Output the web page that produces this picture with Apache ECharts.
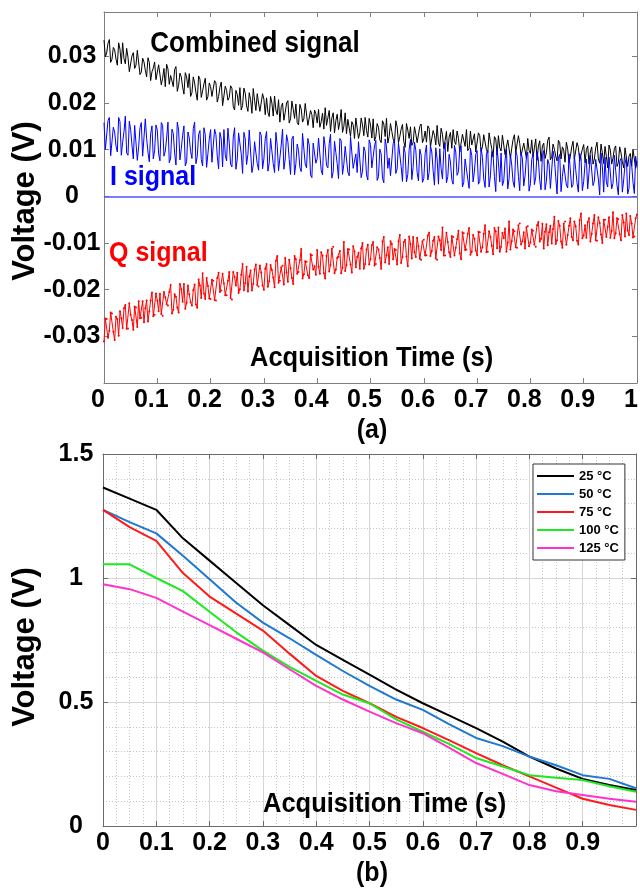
<!DOCTYPE html>
<html>
<head>
<meta charset="utf-8">
<script src="https://cdn.jsdelivr.net/npm/echarts@6.0.0/dist/echarts.min.js"></script>
<style>
html,body{margin:0;padding:0;background:#fff;}
#chart{width:640px;height:890px;}
</style>
</head>
<body>
<div id="chart"></div>
<script>
// ---------- Panel (a): sampled signals, values in mV, one sample every timeStepA seconds ----------
const timeStepA = 0.0025;
const combinedSignalMV = [
33.5,29.9,30.7,32.8,33.6,28.7,29.4,31.9,31.4,29.4,28.1,32.9,31.5,28.4,32.9,29.5,28.4,31.7,29.8,26.7,27.0,30.1,30.8,27.4,28.1,31.3,30.9,26.1,26.6,29.6,28.8,27.0,25.6,29.7,28.7,24.8,26.7,27.5,28.8,25.0,25.3,28.2,
28.3,23.9,25.3,27.4,23.5,28.3,27.3,24.0,25.9,26.3,23.5,27.2,27.8,22.5,23.8,26.4,25.6,23.4,21.9,26.5,25.6,23.3,26.3,21.4,22.2,25.6,24.3,22.2,20.6,25.8,25.1,21.2,22.6,24.1,25.3,20.6,21.4,24.3,23.5,21.4,
21.0,24.8,24.3,20.2,21.4,23.4,24.5,19.4,19.8,23.6,22.7,20.6,21.2,23.7,23.2,19.2,18.5,22.7,21.8,19.5,23.3,18.5,19.5,23.2,22.1,19.4,18.2,22.2,20.8,17.8,23.1,20.6,18.4,22.0,20.0,18.2,17.8,22.0,20.8,17.5,
21.1,18.0,17.1,21.4,20.0,17.2,21.5,18.5,17.5,20.7,15.9,19.2,20.0,16.3,18.0,20.0,20.5,15.7,16.6,20.4,18.7,16.7,19.8,15.8,15.3,19.7,18.7,15.9,16.6,19.9,20.0,15.2,15.4,18.4,17.5,14.7,18.5,17.7,15.7,18.6,
14.8,16.0,17.8,14.4,19.0,15.2,15.4,18.4,13.9,16.8,17.9,13.6,16.2,17.6,14.3,16.0,18.6,13.7,15.0,17.9,13.4,16.5,16.7,12.9,16.0,15.3,12.4,16.8,17.0,12.4,13.6,16.8,15.3,13.0,16.9,14.1,12.7,16.7,15.3,12.5,
16.6,11.9,12.8,15.6,14.8,12.1,11.5,16.2,15.5,12.8,16.7,11.4,12.8,15.6,13.9,12.3,11.5,16.2,14.9,11.5,12.8,14.4,15.4,11.7,10.5,15.6,14.2,12.4,14.9,10.9,11.5,14.9,13.4,11.5,11.8,15.0,15.5,11.5,12.3,14.0,
11.6,15.1,14.6,10.6,10.2,14.1,13.1,11.0,15.2,11.5,10.7,14.6,13.3,10.2,12.0,13.9,9.6,12.7,13.7,10.3,14.3,11.8,11.1,14.0,12.4,9.5,9.9,13.3,13.0,10.7,14.3,9.8,10.3,14.0,11.0,10.9,13.4,9.5,9.3,13.6,
13.0,9.6,10.6,13.2,13.6,10.0,9.3,13.6,11.7,10.2,8.4,12.8,12.3,8.8,13.0,10.4,9.7,13.1,11.0,8.9,8.5,12.1,12.4,8.2,10.3,12.2,13.2,9.4,9.0,13.0,11.3,8.7,8.4,11.4,11.4,8.2,12.4,9.8,9.2,12.1,
8.5,10.4,12.3,7.7,10.8,11.9,7.5,10.8,11.4,8.1,9.3,12.0,12.7,7.8,8.5,11.2,10.1,8.6,7.6,12.0,11.5,8.0,10.6,9.9,7.3,11.6,10.1,7.2,8.6,10.6,11.8,8.0,7.8,11.5,10.5,7.6,8.9,10.1,11.1,7.2,
10.0,10.8,6.9,9.5,10.6,6.9,8.0,10.4,11.6,8.0,7.1,11.2,9.3,7.0,10.7,8.6,6.1,11.0,9.9,6.9,8.2,10.2,10.8,6.4,7.2,10.6,9.3,7.4,6.1,10.4,10.1,6.4,8.6,9.2,6.5,10.0,9.6,6.0,7.5
];
const iSignalMV = [
15.8,10.0,10.3,16.2,16.9,8.7,8.8,14.8,13.8,10.8,9.5,16.9,16.0,8.8,11.6,13.9,17.2,9.3,8.8,16.1,14.3,11.0,8.0,15.2,14.9,7.7,10.6,14.7,15.8,8.6,9.0,16.6,12.4,9.5,7.4,13.4,15.1,8.0,9.8,15.3,14.2,9.1,
7.6,15.8,15.2,8.6,9.7,12.5,15.9,7.2,8.2,14.4,13.5,9.3,6.7,15.9,14.2,7.8,10.2,13.1,15.1,6.5,7.4,13.8,12.5,9.6,8.1,14.5,15.9,7.0,8.6,13.2,14.1,7.9,6.5,14.7,13.2,6.2,9.2,12.3,14.3,7.3,
7.1,14.4,13.2,8.6,5.9,13.7,12.3,6.3,14.3,8.8,7.6,14.6,11.4,6.9,6.3,12.7,14.7,5.8,8.0,13.6,13.2,9.1,4.9,13.7,12.3,6.8,9.0,14.2,14.0,5.1,6.7,11.7,11.5,7.0,5.6,13.8,13.1,5.9,8.0,12.3,
13.9,5.4,7.2,12.4,12.4,7.0,5.1,13.7,10.9,5.5,5.9,11.0,14.4,5.8,8.0,13.2,11.7,7.9,4.7,12.3,12.9,4.6,7.0,11.2,9.8,6.2,5.3,13.5,13.5,6.9,6.1,12.4,11.0,4.6,4.0,11.4,11.7,7.1,8.1,12.5,
12.1,5.6,4.6,12.8,10.6,6.6,6.1,11.3,13.3,3.9,5.3,11.8,9.4,7.0,3.8,12.4,11.9,4.7,6.9,10.7,11.1,5.2,4.4,12.8,12.6,6.0,6.3,9.1,5.1,11.7,12.1,4.0,5.4,10.6,9.6,4.6,3.5,12.1,11.1,6.1,
5.7,10.8,12.0,3.4,4.2,10.1,9.1,3.9,2.9,12.3,10.6,6.0,8.2,4.4,4.5,11.3,12.1,4.9,5.9,11.4,11.0,6.4,3.2,10.7,9.3,3.1,4.7,10.0,12.2,3.6,6.2,11.6,9.9,5.1,3.3,10.1,8.8,3.0,3.8,9.2,
11.0,3.5,5.1,10.9,9.5,5.5,2.4,10.4,8.0,2.6,10.2,5.9,3.7,9.7,11.5,2.9,4.2,9.0,7.4,3.6,2.6,10.9,9.5,4.5,5.3,10.3,10.8,2.0,3.0,8.0,8.2,3.7,1.7,10.3,8.7,3.1,5.4,9.0,9.8,2.6,
3.2,10.4,8.3,3.7,1.9,9.1,9.9,2.0,4.4,9.6,8.8,4.2,1.0,10.3,7.3,3.1,9.3,2.3,3.3,7.8,10.2,1.6,3.8,9.0,6.7,3.1,1.9,9.7,8.7,4.3,1.2,9.4,8.0,2.2,4.4,8.4,9.5,1.1,2.7,7.9,
9.1,2.5,4.1,9.6,7.8,3.4,1.4,8.8,9.8,1.4,3.2,7.9,6.9,1.7,1.7,9.7,8.1,4.1,0.5,8.2,9.0,1.0,4.2,6.8,7.2,2.4,1.8,9.1,9.3,1.9,2.5,8.7,5.7,2.9,0.9,9.2,8.2,1.2,3.2,7.0,
8.0,1.6,1.2,8.8,9.1,2.3,3.3,7.9,7.5,3.7,0.3,9.3,6.3,0.9,8.4,3.0,2.0,8.4,8.8,1.6,2.8,8.8,5.6,2.4,0.3,7.5,8.1,0.9,3.5,6.9,8.5,0.5,1.7,8.1,6.8,3.0,0.6,8.6,6.4
];
const qSignalMV = [
-31.1,-26.2,-26.3,-30.3,-28.8,-24.9,-25.1,-29.0,-30.8,-25.8,-26.3,-29.9,-24.6,-26.1,-28.2,-24.0,-23.3,-28.4,-28.3,-22.9,-25.4,-26.5,-28.6,-23.6,-23.8,-28.0,-22.5,-26.1,-26.0,-22.5,-27.0,-24.0,-22.3,-26.8,-24.7,-22.3,-20.6,-25.7,-25.4,-20.8,-22.3,-24.6,
-20.9,-25.2,-25.6,-20.5,-21.6,-23.1,-23.4,-20.5,-19.0,-25.1,-24.3,-21.0,-21.5,-23.8,-24.9,-18.8,-19.9,-22.6,-18.8,-24.1,-22.8,-19.1,-21.0,-22.7,-23.4,-20.1,-18.9,-23.2,-23.9,-17.8,-19.1,-21.8,-16.5,-20.8,-22.0,-17.5,-19.2,-21.9,-22.0,-17.9,
-18.1,-22.2,-22.3,-17.5,-16.4,-20.5,-20.2,-16.6,-18.7,-21.2,-21.2,-18.1,-16.2,-21.8,-22.1,-16.2,-17.3,-19.1,-16.4,-20.7,-19.9,-16.8,-14.5,-20.1,-18.6,-15.1,-20.4,-17.2,-15.9,-20.2,-18.8,-15.7,-14.6,-19.0,-19.3,-14.8,-16.3,-19.1,-20.0,-15.5,
-14.5,-19.4,-18.2,-14.7,-15.8,-17.4,-19.5,-13.8,-12.8,-18.5,-18.1,-15.2,-14.9,-18.9,-13.2,-16.3,-18.3,-13.6,-15.4,-17.5,-18.8,-12.8,-13.5,-16.6,-16.2,-13.7,-11.3,-17.6,-16.7,-13.9,-14.0,-16.9,-17.5,-12.4,-12.6,-15.7,-15.0,-16.8,-11.5,-15.1,
-16.6,-12.0,-12.7,-16.5,-17.6,-12.8,-11.5,-16.1,-14.7,-11.2,-10.8,-16.5,-15.7,-13.2,-13.0,-11.7,-16.5,-15.3,-9.8,-16.0,-14.7,-11.3,-11.4,-14.6,-16.3,-10.7,-11.8,-15.2,-13.0,-12.1,-15.5,-11.2,-10.0,-15.5,-14.5,-11.4,-10.4,-14.6,-13.5,-10.5,
-9.8,-14.8,-14.5,-10.9,-11.4,-13.2,-15.5,-9.7,-8.7,-14.2,-12.6,-10.9,-14.5,-9.6,-10.2,-13.5,-11.3,-11.5,-14.6,-9.6,-8.3,-14.3,-13.0,-9.8,-9.3,-12.9,-15.0,-8.6,-10.2,-13.3,-8.7,-12.0,-13.0,-8.9,-10.7,-13.4,-13.6,-9.6,-9.3,-12.7,
-12.6,-8.4,-7.8,-12.8,-11.7,-9.5,-8.7,-13.3,-13.6,-8.6,-9.4,-11.5,-6.7,-12.7,-12.7,-7.8,-9.8,-12.0,-13.0,-8.5,-8.7,-12.7,-11.0,-9.2,-7.4,-12.2,-13.5,-7.7,-7.9,-11.5,-11.4,-8.0,-6.8,-12.5,-11.9,-8.3,-9.1,-11.6,-12.6,-7.6,
-7.7,-11.9,-10.9,-8.0,-6.2,-12.0,-11.9,-7.5,-8.7,-10.6,-12.4,-6.8,-7.5,-11.1,-6.7,-11.9,-10.8,-7.8,-9.0,-6.9,-11.9,-9.9,-5.4,-11.4,-9.6,-7.1,-7.5,-10.9,-11.0,-6.2,-5.8,-10.3,-9.7,-7.7,-11.2,-6.6,-6.4,-10.7,-9.9,-7.1,
-7.4,-10.4,-10.8,-6.2,-5.5,-9.7,-9.1,-5.9,-11.2,-7.6,-6.0,-10.5,-7.7,-6.3,-10.1,-7.0,-4.4,-10.2,-9.4,-5.3,-6.3,-9.7,-11.0,-5.8,-5.4,-10.4,-8.3,-6.3,-4.7,-8.7,-9.4,-5.4,-6.4,-9.5,-10.3,-5.1,-3.7,-9.0,-8.4,-6.2,
-8.9,-5.5,-4.7,-9.7,-8.0,-5.8,-4.0,-9.4,-9.5,-4.5,-5.7,-8.2,-10.0,-5.0,-5.0,-8.7,-6.5,-4.5,-8.9,-7.4,-3.4,-9.0,-7.9,-4.7,-4.9,-8.1,-9.4,-4.0,-5.6,-8.6,-3.7,-7.3,-8.3,-4.2,-5.8,-8.8,-8.6,-4.7,-3.9
];

// ---------- Panel (b): voltage vs time for each temperature ----------
const timeB = [0,0.05,0.1,0.15,0.2,0.25,0.3,0.35,0.4,0.45,0.5,0.55,0.6,0.65,0.7,0.75,0.8,0.85,0.9,0.95,1.0];
const temperatureNames = ['25 °C','50 °C','75 °C','100 °C','125 °C'];
const v25 = [1.365,1.32,1.275,1.16,1.07,0.98,0.89,0.81,0.73,0.67,0.61,0.55,0.495,0.445,0.395,0.34,0.28,0.232,0.19,0.165,0.145];
const v50 = [1.275,1.225,1.18,1.09,0.995,0.90,0.82,0.757,0.69,0.625,0.565,0.51,0.468,0.41,0.355,0.322,0.28,0.245,0.205,0.19,0.152];
const v75 = [1.275,1.205,1.15,1.02,0.925,0.856,0.788,0.695,0.605,0.545,0.495,0.44,0.395,0.345,0.294,0.245,0.20,0.155,0.11,0.085,0.065];
const v100 = [1.055,1.055,1.0,0.947,0.864,0.781,0.707,0.642,0.585,0.53,0.495,0.43,0.38,0.33,0.274,0.24,0.205,0.195,0.185,0.16,0.138];
const v125 = [0.975,0.955,0.92,0.864,0.81,0.755,0.70,0.632,0.565,0.51,0.461,0.415,0.374,0.315,0.254,0.21,0.165,0.14,0.125,0.11,0.098];
const seriesB = [v25, v50, v75, v100, v125];
const colorsB = ['#000000','#1f78d1','#ff1a1a','#1ee81e','#ff33cc'];

const FONT = '"Liberation Sans", Arial, Helvetica, sans-serif';

const timesA = combinedSignalMV.map((_, i) => +(i * timeStepA).toFixed(4));
const pairsA = arr => arr.map((mv, i) => [timesA[i], mv / 1000]);
const pairsB = arr => arr.map((v, i) => [timeB[i], v]);

const chart = echarts.init(document.getElementById('chart'), null, {renderer: 'canvas'});

const labelStyle = {fontFamily: FONT, fontWeight: 'bold', fontSize: 25, color: '#000'};
const axisGrayA = '#7f7f7f';
const axisGrayB = '#6a6a6a';

function boxAxis(gridIndex, pos, min, max, interval, color) {
  return {
    type: 'value', gridIndex: gridIndex, position: pos, min: min, max: max, interval: interval,
    axisLine: {show: true, onZero: false, lineStyle: {color: color, width: 1}},
    axisTick: {show: true, inside: true, length: 5, lineStyle: {color: color}},
    axisLabel: {show: false},
    splitLine: {show: false}
  };
}
function txt(x, y, text, color, size, align, extra) {
  return Object.assign({
    type: 'text', x: x, y: y, scaleY: 1.1, z: 50,
    style: {text: text, fill: color, font: 'bold ' + size + 'px ' + FONT, align: align, verticalAlign: 'middle'}
  }, extra || {});
}

const option = {
  animation: false,
  backgroundColor: '#ffffff',
  grid: [
    {left: 104, top: 12, width: 533, height: 371, outerBoundsMode: 'none'},
    {left: 103, top: 454, width: 533, height: 372, outerBoundsMode: 'none'}
  ],
  legend: {
    data: temperatureNames,
    orient: 'vertical',
    left: 533, top: 464,
    padding: [5, 6, 5, 4],
    icon: 'rect',
    itemWidth: 37, itemHeight: 2, itemGap: 4,
    backgroundColor: '#ffffff',
    borderColor: '#333333', borderWidth: 1, borderRadius: 0,
    textStyle: {fontFamily: FONT, fontWeight: 'bold', fontSize: 13, lineHeight: 14, color: '#000'}
  },
  xAxis: [
    {
      type: 'value', gridIndex: 0, position: 'bottom', min: 0, max: 1, interval: 0.1,
      axisLine: {show: true, onZero: false, lineStyle: {color: axisGrayA}},
      axisTick: {show: true, inside: true, length: 5, lineStyle: {color: axisGrayA}},
      axisLabel: Object.assign({margin: 5, padding: [0, 12, 0, 0],
        formatter: v => String(+v.toFixed(1))}, labelStyle),
      splitLine: {show: false}
    },
    boxAxis(0, 'top', 0, 1, 0.1, axisGrayA),
    {
      type: 'value', gridIndex: 1, position: 'bottom', min: 0, max: 1, interval: 0.1,
      axisLine: {show: true, onZero: false, lineStyle: {color: axisGrayB}},
      axisTick: {show: true, inside: true, length: 5, lineStyle: {color: axisGrayB}},
      axisLabel: Object.assign({margin: 5,
        formatter: v => (v >= 0.999 ? '' : String(+v.toFixed(1)))}, labelStyle),
      splitLine: {show: true, lineStyle: {color: '#d6d6d6', width: 1, type: 'solid'}},
      minorTick: {show: false, splitNumber: 4},
      minorSplitLine: {show: true, lineStyle: {color: '#c4c4c4', width: 1, type: [1, 2]}}
    },
    boxAxis(1, 'top', 0, 1, 0.1, axisGrayB)
  ],
  yAxis: [
    {
      type: 'value', gridIndex: 0, position: 'left', min: -0.04, max: 0.0395, interval: 0.01,
      axisLine: {show: true, onZero: false, lineStyle: {color: axisGrayA}},
      axisTick: {show: true, inside: true, length: 5, lineStyle: {color: axisGrayA}},
      axisLabel: Object.assign({margin: 32, align: 'center',
        formatter: v => (Math.abs(v) > 0.035 ? '' : String(+v.toFixed(2)))}, labelStyle),
      splitLine: {show: false}
    },
    boxAxis(0, 'right', -0.04, 0.0395, 0.01, axisGrayA),
    {
      type: 'value', gridIndex: 1, position: 'left', min: 0, max: 1.5, interval: 0.5,
      axisLine: {show: true, onZero: false, lineStyle: {color: axisGrayB}},
      axisTick: {show: true, inside: true, length: 5, lineStyle: {color: axisGrayB}},
      axisLabel: Object.assign({margin: 27, align: 'center',
        formatter: v => String(+v.toFixed(1))}, labelStyle),
      splitLine: {show: true, lineStyle: {color: '#d6d6d6', width: 1, type: 'solid'}},
      minorTick: {show: false, splitNumber: 5},
      minorSplitLine: {show: true, lineStyle: {color: '#c4c4c4', width: 1, type: [1, 2]}}
    },
    boxAxis(1, 'right', 0, 1.5, 0.5, axisGrayB)
  ],
  series: [
    {
      type: 'line', xAxisIndex: 0, yAxisIndex: 0, data: pairsA(combinedSignalMV),
      symbol: 'none', lineStyle: {color: '#000000', width: 1}, z: 3
    },
    {
      type: 'line', xAxisIndex: 0, yAxisIndex: 0, data: pairsA(iSignalMV),
      symbol: 'none', lineStyle: {color: '#0000ff', width: 1}, z: 4,
      markLine: {
        silent: true, symbol: 'none', label: {show: false},
        lineStyle: {color: '#4f4fff', width: 1.5, type: 'solid'},
        data: [{yAxis: 0}]
      }
    },
    {
      type: 'line', xAxisIndex: 0, yAxisIndex: 0, data: pairsA(qSignalMV),
      symbol: 'circle', symbolSize: 2, showSymbol: true,
      itemStyle: {color: '#ff0000'}, lineStyle: {color: '#ff0000', width: 1}, z: 3
    }
  ].concat(seriesB.map((vals, k) => ({
    type: 'line', name: temperatureNames[k], xAxisIndex: 2, yAxisIndex: 2,
    data: pairsB(vals), symbol: 'none',
    itemStyle: {color: colorsB[k]},
    lineStyle: {color: colorsB[k], width: 2}, z: 3
  }))),
  graphic: [
    txt(255, 44, 'Combined signal', '#000', 26, 'center'),
    txt(110, 177, 'I signal', '#0000ff', 25, 'left'),
    txt(109, 253, 'Q signal', '#ff0000', 25, 'left'),
    txt(250, 358, 'Acquisition Time (s)', '#000', 25.5, 'left'),
    txt(372, 430, '(a)', '#000', 25, 'center'),
    txt(263, 804, 'Acquisition Time (s)', '#000', 25.5, 'left'),
    txt(372, 873, '(b)', '#000', 25, 'center'),
    txt(25, 201, 'Voltage (V)', '#000', 31, 'center', {rotation: Math.PI / 2, scaleY: 1}),
    txt(25, 647, 'Voltage (V)', '#000', 31, 'center', {rotation: Math.PI / 2, scaleY: 1})
  ]
};
chart.setOption(option);
</script>
</body>
</html>
